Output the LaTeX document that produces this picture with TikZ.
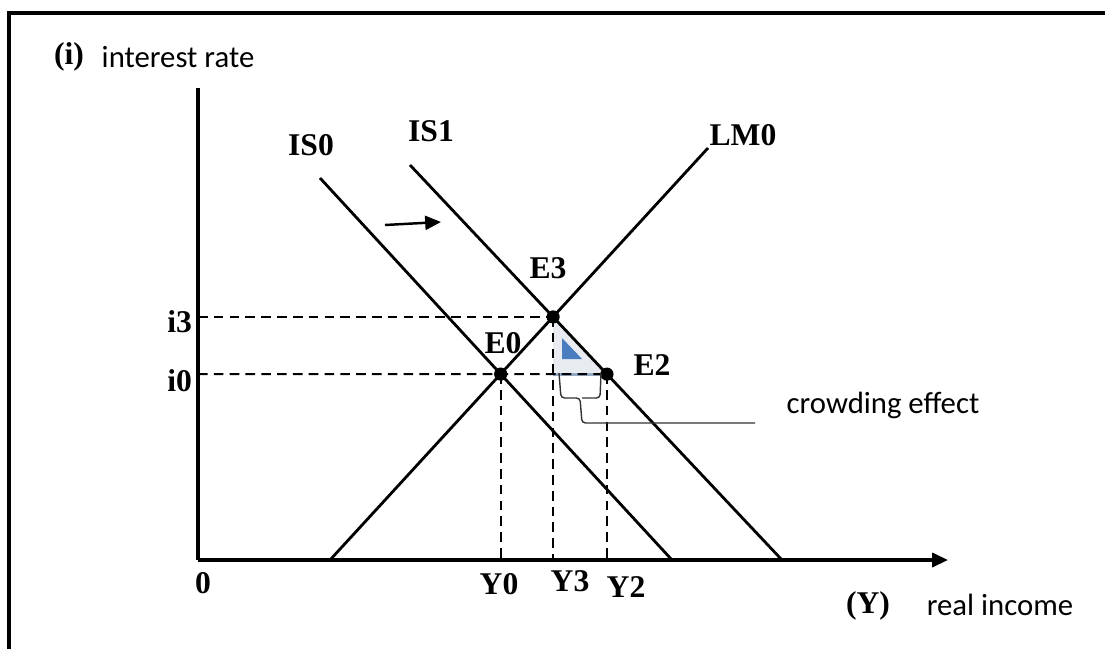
\documentclass[tikz,border=0pt]{standalone}
\usepackage{fontspec}
\setmainfont{Liberation Serif}
\newfontfamily\calfont{Carlito}
\usetikzlibrary{positioning,calc,arrows.meta}
\definecolor{FillGray}{RGB}{232,236,241}
\definecolor{EdgeBlue}{RGB}{150,170,196}
\definecolor{MarkBlue}{RGB}{74,124,192}
\tikzset{
  dot/.style={circle,fill=black,inner sep=0pt,minimum size=7.5pt},
  lbl/.style={font=\fontsize{18}{21}\selectfont\bfseries,inner sep=1pt},
  txt/.style={font=\calfont\fontsize{17.5}{21}\selectfont,inner sep=1pt},
  axis/.style={line width=1.8pt},
  curve/.style={line width=1.6pt},
  guide/.style={line width=1.2pt,dash pattern=on 5.5pt off 3.5pt},
  brc/.style={line width=0.8pt,black!80},
}
\begin{document}
\begin{tikzpicture}[x=0.02cm,y=-0.02cm]
    \useasboundingbox (0,0) rectangle (1105,649);
    \draw[line width=2.3pt] (9,649) -- (9,13) -- (1105,13);
    \coordinate (o) at (198,560);
    \coordinate (ytop) at (198,88);
    \coordinate (xend) at (948,560);
    \coordinate (is0a) at (320,178); \coordinate (is0b) at (672,560);
    \coordinate (is1a) at (410,165); \coordinate (is1b) at (782,560);
    \coordinate (lma) at (330,560);  \coordinate (lmb) at (708,148);
    \coordinate (e0) at (intersection of is0a--is0b and lma--lmb);
    \coordinate (e3) at (intersection of is1a--is1b and lma--lmb);
    \coordinate (e0r) at ($(e0)+(400,0)$);
    \coordinate (e2) at (intersection of e0--e0r and is1a--is1b);
    \fill[FillGray] (e3) -- (e3 |- e2) -- (e2) -- cycle;
    \draw[EdgeBlue,line width=1.8pt] (e3 |- e2) -- (e2);
    \fill[MarkBlue] (562,338) -- (562,359) -- (582,359) -- cycle;
    \draw[guide] (o |- e3) -- (e3);
    \draw[guide] (o |- e0) -- (e2);
    \foreach \p in {e0,e3,e2} {\draw[guide] (\p) -- (\p |- o);}
    \draw[axis] (ytop) -- (o);
    \draw[axis,-{Triangle[length=9pt,width=8pt]}] (o) -- (xend);
    \draw[curve] (is0a) -- (is0b);
    \draw[curve] (is1a) -- (is1b);
    \draw[curve] (lma) -- (lmb);
    \draw[line width=1.4pt,-{Triangle[length=9pt,width=8pt]}] (385,225) -- (441,222);
    \foreach \p/\n in {e0/E0n,e3/E3n,e2/E2n} {\node[dot] (\n) at (\p) {};}
    \draw[brc,rounded corners=2pt] (559,373) -- (561,398) -- (580,398) -- (582,423) -- (755,423);
    \draw[brc,rounded corners=2pt] (601,373) -- (600,398) -- (582,398);
    \node[lbl] (ilab) at (69,57) {(i)};
    \node[txt] (irate) at (178,57) {interest rate};
    \node[lbl] (ylab) at (868,606) {(Y)};
    \node[txt] (yinc) at (1000,605) {real income};
    \node[txt] (crowd) at (883,405) {crowding effect};
    \node[lbl] (zero) at (203,583) {0};
    \node[lbl,anchor=east] (i3) at (194,322) {i3};
    \node[lbl,anchor=east] (i0) at (194,381) {i0};
    \node[lbl] (y0) at (499,584) {Y0};
    \node[lbl] (y3) at (570,581) {Y3};
    \node[lbl] (y2) at (626,587) {Y2};
    \node[lbl] (E0) at (503,343) {E0};
    \node[lbl] (E3) at (548,268) {E3};
    \node[lbl] (E2) at (652,365) {E2};
    \node[lbl] (IS0) at (311,145) {IS0};
    \node[lbl] (IS1) at (431,131) {IS1};
    \node[lbl] (LM0) at (743,135) {LM0};
  \end{tikzpicture}
\end{document}
